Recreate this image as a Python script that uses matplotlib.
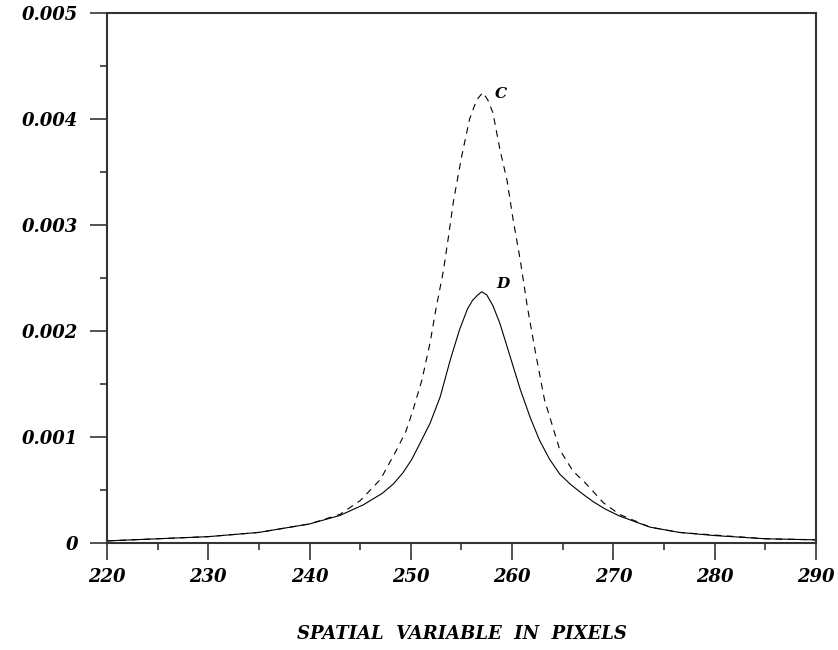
import matplotlib
matplotlib.use('Agg')
import matplotlib.pyplot as plt
from matplotlib.ticker import MultipleLocator, FixedLocator

# Curve C (dashed)
x_c = [220, 225, 230, 235, 240, 243, 245, 247, 248.6, 249.5, 250.2, 251.1, 251.9,
       252.5, 253.2, 253.7, 254.2, 255.0, 255.8, 256.5, 257.1, 257.6, 258.1, 258.8,
       259.5, 260.1, 260.8, 261.5, 262.3, 263.2, 264.0, 264.7, 266, 267.4, 269,
       270.6, 273.6, 276.5, 280, 285, 290]
y_c = [0.00002, 0.00004, 0.00006, 0.0001, 0.00018, 0.00027, 0.0004, 0.0006, 0.00088,
       0.00105, 0.00125, 0.00154, 0.00189, 0.00222, 0.00256, 0.00288, 0.00322, 0.00364,
       0.0040, 0.00418, 0.00425, 0.00418, 0.00406, 0.00371, 0.00342, 0.00305, 0.00267,
       0.00223, 0.0018, 0.00135, 0.0011, 0.00088, 0.00068, 0.00055, 0.00038, 0.00027,
       0.00015, 0.0001, 0.000075, 0.00004, 0.00003]

# Curve D (solid)
x_d = [220, 225, 230, 235, 240, 243, 245.3, 247.2, 248.3, 249.2, 250.1, 250.9, 251.9,
       252.9, 253.9, 254.8, 255.6, 256.1, 256.6, 257.0, 257.5, 258.1, 258.8, 259.8,
       260.8, 261.8, 262.7, 263.7, 264.7, 265.8, 267, 268, 269.2, 270.6, 273.6, 276.5,
       280, 285, 290]
y_d = [0.00002, 0.00004, 0.00006, 0.0001, 0.00018, 0.00026, 0.00036, 0.00047, 0.00056,
       0.00066, 0.00079, 0.00094, 0.00113, 0.00138, 0.00173, 0.00201, 0.00221, 0.00229,
       0.00234, 0.00237, 0.00234, 0.00224, 0.00207, 0.00176, 0.00145, 0.00118, 0.00097,
       0.00079, 0.00065, 0.00055, 0.00046, 0.00039, 0.00032, 0.000255, 0.00015, 0.0001,
       0.00007, 0.00004, 0.00003]

x_ticks = [220, 230, 240, 250, 260, 270, 280, 290]
y_ticks = [0, 0.001, 0.002, 0.003, 0.004, 0.005]
y_tick_labels = ['0', '0.001', '0.002', '0.003', '0.004', '0.005']

font = dict(family='DejaVu Serif', weight='semibold', style='italic')

fig = plt.figure(figsize=(8.38, 6.5), dpi=100)
ax = fig.add_axes([0.1277, 0.1646, 0.846, 0.8154])

ax.plot(x_c, y_c, color='black', lw=0.8, linestyle=(0, (6, 5)))
ax.plot(x_d, y_d, color='black', lw=0.8)

ax.text(258.3, 0.0042, 'C', fontsize=11, **font)
ax.text(258.4, 0.00241, 'D', fontsize=11, **font)

ax.set_xlim(220, 290)
ax.set_ylim(0, 0.005)
ax.xaxis.set_major_locator(FixedLocator(x_ticks))
ax.xaxis.set_minor_locator(MultipleLocator(5))
ax.yaxis.set_major_locator(FixedLocator(y_ticks))
ax.yaxis.set_minor_locator(MultipleLocator(0.0005))
ax.set_xticklabels([str(v) for v in x_ticks], fontsize=13, **font)
ax.set_yticklabels(y_tick_labels, fontsize=13, **font)

ax.tick_params(axis='both', which='major', direction='out', length=12, width=1.2,
               color='#333333')
ax.tick_params(axis='both', which='minor', direction='out', length=5, width=1.2,
               color='#333333')
ax.tick_params(axis='x', which='major', pad=6)
ax.tick_params(axis='y', which='major', pad=9)

for s in ax.spines.values():
    s.set_linewidth(1.5)
    s.set_color('#333333')

ax.set_xlabel('SPATIAL  VARIABLE  IN  PIXELS', fontsize=13, labelpad=28, **font)

fig.savefig('out.png', dpi=100)
